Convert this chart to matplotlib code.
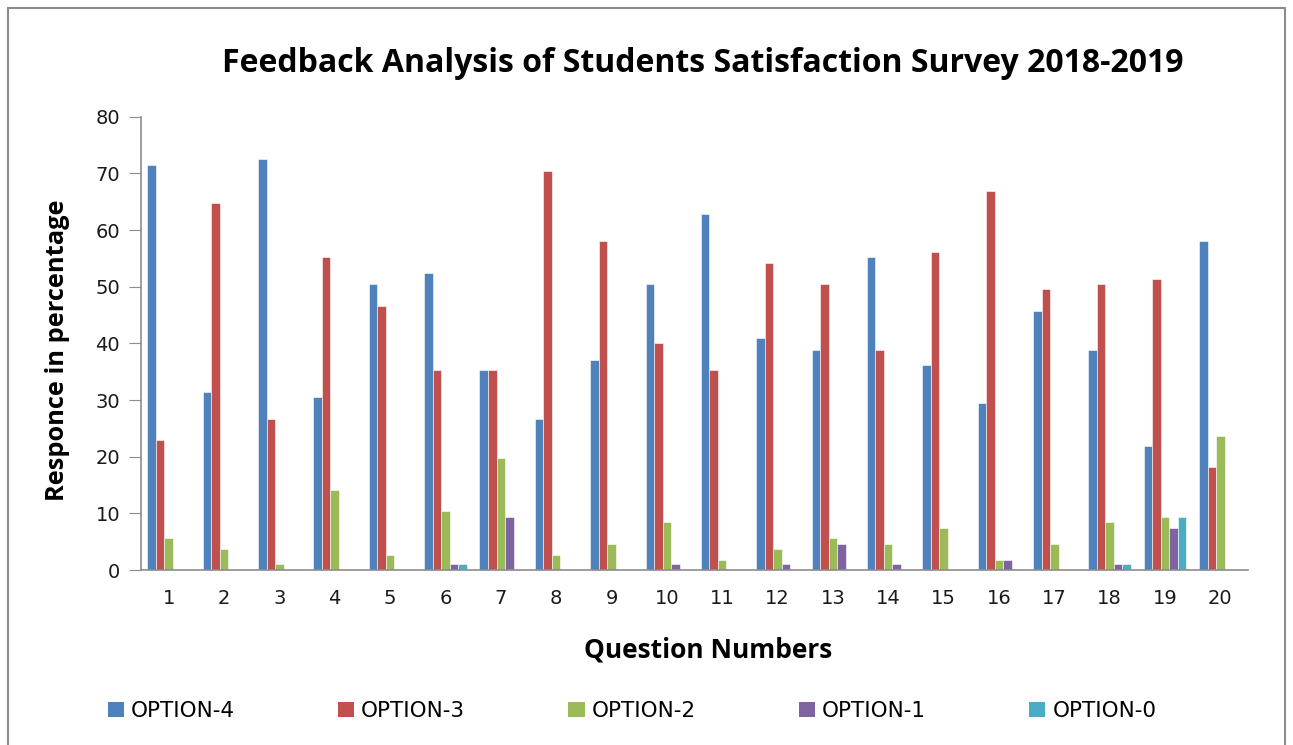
import matplotlib
matplotlib.use("Agg")
import matplotlib.pyplot as plt
import numpy as np
from matplotlib.patches import Rectangle, Patch

questions = [str(i) for i in range(1, 21)]
option4 = [71.4, 31.4, 72.5, 30.5, 50.5, 52.4, 35.3, 26.6, 37.0, 50.5,
           62.8, 40.9, 38.9, 55.2, 36.1, 29.4, 45.7, 38.9, 21.8, 58.1]
option3 = [22.9, 64.8, 26.6, 55.3, 46.6, 35.3, 35.3, 70.5, 58.1, 40.0,
           35.3, 54.1, 50.5, 38.9, 56.1, 66.8, 49.6, 50.5, 51.3, 18.1]
option2 = [5.7, 3.7, 1.0, 14.2, 2.7, 10.5, 19.8, 2.7, 4.6, 8.5,
           1.8, 3.7, 5.7, 4.6, 7.5, 1.8, 4.6, 8.5, 9.4, 23.7]
option1 = [0, 0, 0, 0, 0, 1.0, 9.4, 0, 0, 1.0,
           0, 1.0, 4.6, 1.0, 0, 1.8, 0, 1.0, 7.5, 0]
option0 = [0, 0, 0, 0, 0, 1.0, 0, 0, 0, 0,
           0, 0, 0, 0, 0, 0, 0, 1.0, 9.4, 0]

series = [("OPTION-4", option4, "#4F81BD"),
          ("OPTION-3", option3, "#C0504D"),
          ("OPTION-2", option2, "#9BBB59"),
          ("OPTION-1", option1, "#8064A2"),
          ("OPTION-0", option0, "#4BACC6")]

W, H = 1293, 745
fig = plt.figure(figsize=(W / 100, H / 100), dpi=100)
fig.patch.set_facecolor("white")

# outer chart border
fig.add_artist(Rectangle((8 / W, -0.01), (1285 - 8) / W, (H - 8) / H + 0.01,
                         transform=fig.transFigure, fill=False,
                         edgecolor="#8c8c8c", linewidth=1.5))

ax = fig.add_axes([141 / W, (H - 570) / H, (1248 - 141) / W, (570 - 116.7) / H])

x = np.arange(len(questions))
bw = 1 / 6.5
n = len(series)
handles = []
for i, (name, vals, col) in enumerate(series):
    off = (i - (n - 1) / 2) * bw
    ax.bar(x + off, vals, width=bw, color=col, edgecolor="white",
           linewidth=0.4, label=name)
    handles.append(Patch(facecolor=col, edgecolor="none", label=name))

ax.set_xlim(-0.5, len(questions) - 0.5)
ax.set_ylim(0, 80)
ax.set_yticks(range(0, 81, 10))
ax.set_xticks(x)
ax.set_xticklabels(questions)
for s in ["top", "right"]:
    ax.spines[s].set_visible(False)
for s in ["left", "bottom"]:
    ax.spines[s].set_color("#8c8c8c")
    ax.spines[s].set_linewidth(1.2)
ax.tick_params(axis="y", length=9, color="#8c8c8c", labelsize=14, pad=6,
               labelcolor="#1a1a1a")
ax.tick_params(axis="x", length=0, labelsize=14, pad=14, labelcolor="#1a1a1a")
for t in ax.get_xticklabels() + ax.get_yticklabels():
    t.set_fontfamily("DejaVu Sans")

fig.text(703 / W, 1 - 63 / H,
         "Feedback Analysis of Students Satisfaction Survey 2018-2019",
         ha="center", va="center", fontsize=23, fontweight="bold",
         family="Open Sans", color="#000000")
fig.text(708 / W, 1 - 650 / H, "Question Numbers", ha="center", va="center",
         fontsize=19, fontweight="bold", family="Open Sans")
fig.text(57 / W, 1 - 350 / H, "Responce in percentage", ha="center", va="center",
         rotation=90, fontsize=18.3, fontweight="bold", family="Open Sans")

leg = fig.legend(handles=handles, loc="center", bbox_to_anchor=(632 / W, 1 - 711 / H),
                 ncol=5, frameon=False, handlelength=0.75, handleheight=0.75,
                 handletextpad=0.32, columnspacing=4.8,
                 prop={"family": "DejaVu Sans", "size": 15.5})

fig.savefig("out.png", dpi=100, facecolor="white")
